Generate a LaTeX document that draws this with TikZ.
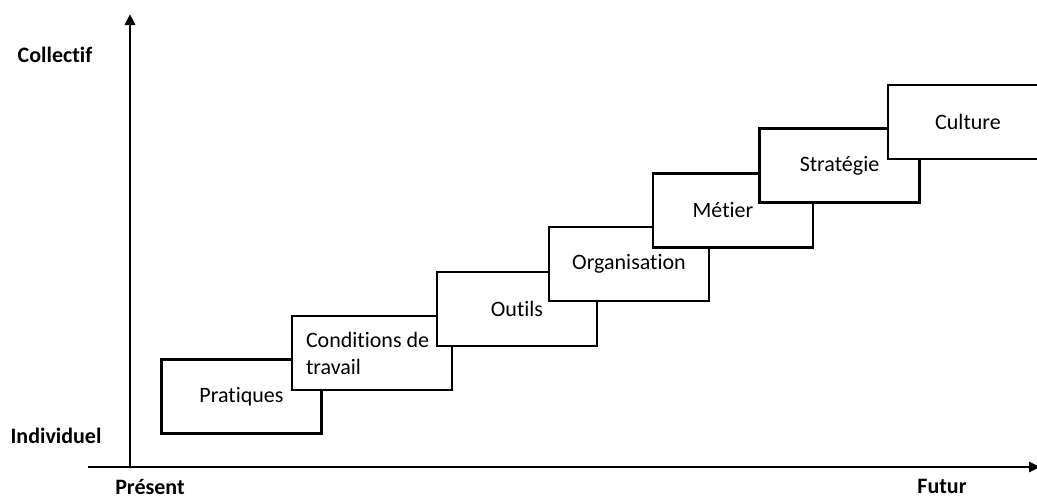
\documentclass[tikz,border=0pt]{standalone}
\usepackage{fontspec}
\setmainfont{Carlito}[Ligatures=NoCommon]
\usetikzlibrary{arrows.meta}
\pgfdeclarelayer{background}
\pgfdeclarelayer{foreground}
\pgfsetlayers{background,main,foreground}

\tikzset{
  stepbox/.style={draw, fill=white, line width=2.6pt, minimum width=160pt,
    minimum height=74pt, inner sep=0pt, font=\fontsize{22}{27}\selectfont},
  axislabel/.style={font=\fontsize{22}{27}\selectfont\bfseries, inner sep=0pt},
  axisline/.style={line width=2.8pt, -{Triangle[length=11pt,width=10pt]}}
}

\begin{document}
\begin{tikzpicture}[x=1pt,y=-1pt]
\useasboundingbox (0,0) rectangle (1037,498);
\clip (0,0) rectangle (1037,498);
\begin{pgfonlayer}{background}
\fill[white] (0,0) rectangle (1037,498);
\end{pgfonlayer}
% axes
\coordinate (origin) at (130,467);
\coordinate (ytop) at (130,14);
\coordinate (xstart) at (88,467);
\coordinate (xend) at (1040,467);
\draw[axisline] (origin) -- (ytop);
\draw[axisline] (xstart) -- (xend);
\node[axislabel] (collectif) at (55,55) {Collectif};
\node[axislabel] (individuel) at (56,436) {Individuel};
\node[axislabel] (present) at (150,486.5) {Présent};
\node[axislabel] (futur) at (942,486.5) {Futur};
% steps
\node[stepbox] (pratiques) at (241.5,396.5) {Pratiques};
\node[stepbox, align=flush left, text width=132pt] (conditions) at (372,353) {Conditions de\\travail};
\node[stepbox] (outils) at (517,309) {Outils};
\node[stepbox] (organisation) at (629,264) {Organisation};
\node[stepbox] (metier) at (733,210.5) {Métier\hspace*{20pt}};
\node[stepbox] (strategie) at (839.5,165.5) {Stratégie};
\node[stepbox] (culture) at (968,122) {Culture};
\end{tikzpicture}
\end{document}
